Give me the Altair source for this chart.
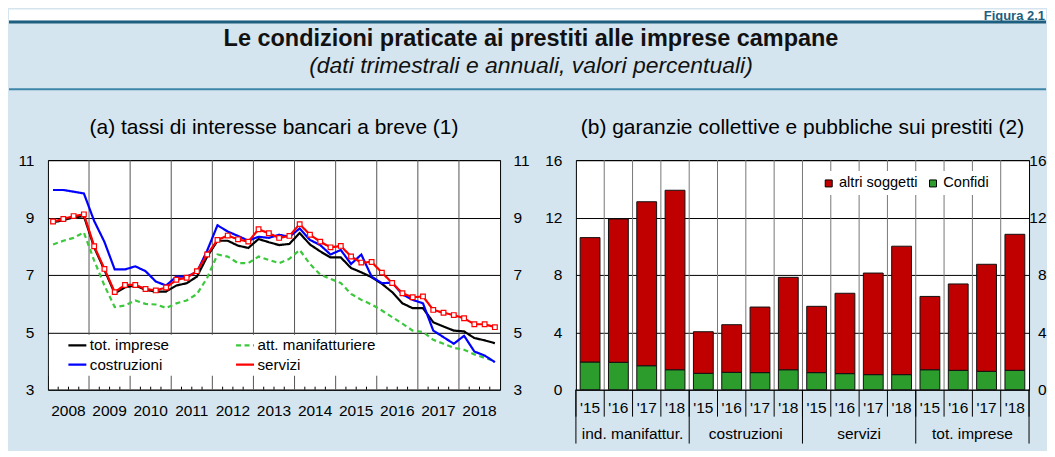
import altair as alt
import pandas as pd

FONT = "Liberation Sans"
BG = "#D4E5EF"
TEAL = "#1E5E7E"
TEAL_THIN = "#3D85A9"
TXT = "#000000"

# ---------------- panel (a): quarterly short-term rates
anni_a = list(range(2008, 2019))
trimestri = [1, 2, 3, 4]
serie_a = ["tot. imprese", "costruzioni", "att. manifatturiere", "servizi"]
colori_a = ["#000000", "#0000FF", "#3CC83C", "#FF0000"]
tratti_a = [[1, 0], [1, 0], [5, 3.5], [1, 0]]
tot_imprese = [8.83, 8.91, 9.00, 9.05, 7.96, 7.17, 6.36, 6.57, 6.63, 6.48, 6.42, 6.42,
               6.63, 6.71, 6.94, 7.64, 8.19, 8.19, 8.02, 7.94, 8.25, 8.14, 8.04, 8.08,
               8.46, 8.06, 7.82, 7.61, 7.61, 7.24, 7.09, 6.92, 6.69, 6.40, 6.01, 5.84,
               5.84, 5.35, 5.20, 5.06, 5.03, 4.80, 4.72, 4.62]
att_manifatturiere = [8.06, 8.19, 8.29, 8.48, 7.50, 6.63, 5.88, 5.93, 6.11, 5.99, 5.97, 5.85,
                      6.01, 6.11, 6.33, 6.90, 7.71, 7.64, 7.41, 7.41, 7.64, 7.52, 7.41, 7.56,
                      7.87, 7.38, 7.01, 6.86, 6.72, 6.34, 6.13, 5.97, 5.76, 5.53, 5.30, 5.06,
                      5.01, 4.74, 4.60, 4.46, 4.39, 4.23, 4.11, 4.00]
costruzioni = [9.96, 9.96, 9.90, 9.84, 8.88, 8.15, 7.19, 7.19, 7.30, 7.13, 6.77, 6.63,
               6.94, 6.94, 7.10, 7.85, 8.73, 8.51, 8.36, 8.19, 8.33, 8.29, 8.40, 8.33,
               8.62, 8.22, 8.04, 7.71, 7.87, 7.38, 7.71, 6.94, 6.71, 6.73, 6.32, 6.13,
               6.01, 5.06, 4.83, 4.60, 4.88, 4.33, 4.19, 3.96]
servizi = [8.86, 8.95, 9.05, 9.11, 8.00, 7.21, 6.40, 6.65, 6.65, 6.51, 6.46, 6.56,
           6.83, 6.90, 7.13, 7.71, 8.22, 8.37, 8.24, 8.16, 8.59, 8.45, 8.29, 8.36,
           8.77, 8.40, 8.16, 7.96, 8.01, 7.64, 7.43, 7.45, 7.08, 6.72, 6.36, 6.22,
           6.25, 5.78, 5.68, 5.60, 5.49, 5.28, 5.28, 5.18]
valori_a = {"tot. imprese": tot_imprese, "att. manifatturiere": att_manifatturiere,
            "costruzioni": costruzioni, "servizi": servizi}
tick_a = [3, 5, 7, 9, 11]

# ---------------- panel (b): guarantees on loans
settori = ["ind. manifattur.", "costruzioni", "servizi", "tot. imprese"]
anni_b = ["'15", "'16", "'17", "'18"]
tipi_b = ["altri soggetti", "Confidi"]
colori_b = ["#C00000", "#2C9C2C"]
confidi = [1.93, 1.91, 1.67, 1.39, 1.14, 1.21, 1.19, 1.39,
           1.19, 1.12, 1.05, 1.05, 1.39, 1.35, 1.28, 1.35]
altri_soggetti = [8.67, 9.99, 11.43, 12.51, 2.90, 3.32, 4.57, 6.44,
                  4.62, 5.60, 7.08, 8.95, 5.11, 6.02, 7.46, 9.48]
tick_b = [0, 4, 8, 12, 16]

TITOLO = "Le condizioni praticate ai prestiti alle imprese campane"
SOTTOTITOLO = "(dati trimestrali e annuali, valori percentuali)"
TITOLO_A = "(a) tassi di interesse bancari a breve (1)"
TITOLO_B = "(b) garanzie collettive e pubbliche sui prestiti (2)"
FIGURA = "Figura 2.1"

# ---------------- layout constants (pixels, relative to panel (a) plot origin)
W_A, W_B, H = 453, 454, 230
GAP = 76
LEFT = 39          # from page panel edge to plot (a)
RIGHT_END = 1000   # right edge of the drawing
RIGHT_EXT = RIGHT_END - GAP - W_A - W_B
TOP = -151         # top edge of the drawing
LAB = 15.5
BAR_FRAC = 0.70

# ---------------- tables
periodi = [a + (q - 0.5) / 4 for a in anni_a for q in trimestri]
righe = []
for nome in serie_a:
    for t, v in zip(periodi, valori_a[nome]):
        righe.append({"t": t, "v": v, "serie": nome})
df_a = pd.DataFrame(righe)
df_anni = pd.DataFrame({"t": anni_a[1:]})
df_trim = pd.DataFrame({"t": [a + k / 4 for a in anni_a for k in (1, 2, 3)]})
df_lab_a = pd.DataFrame({"t": [a + 0.5 for a in anni_a], "anno": [str(a) for a in anni_a]})
one = pd.DataFrame({"z": [0]})

righe_b = []
for i in range(16):
    righe_b.append({"x0": i + (1 - BAR_FRAC) / 2, "x1": i + (1 + BAR_FRAC) / 2,
                    "y0": 0, "y1": confidi[i], "tipo": "Confidi"})
    righe_b.append({"x0": i + (1 - BAR_FRAC) / 2, "x1": i + (1 + BAR_FRAC) / 2,
                    "y0": confidi[i], "y1": confidi[i] + altri_soggetti[i], "tipo": "altri soggetti"})
df_b = pd.DataFrame(righe_b)
df_lab_b = pd.DataFrame({"xc": [i + 0.5 for i in range(16)],
                         "anno": [anni_b[i % 4] for i in range(16)]})
df_grp_b = pd.DataFrame({"xc": [4 * g + 2 for g in range(4)], "settore": settori})
df_grid_b = pd.DataFrame({"k": list(range(1, 16))})
df_sep_b = pd.DataFrame({"k": list(range(0, 17))})
df_gsep_b = pd.DataFrame({"k": [0, 4, 8, 12, 16]})

# ---------------- header (drawn in panel (a) pixel space)
def testo(t, **kw):
    return alt.Chart(pd.DataFrame({"t": [t]})).mark_text(**kw)

bianco = alt.Chart(one).mark_rect(color="white").encode(
    x=alt.value(-LEFT), x2=alt.value(RIGHT_END), y=alt.value(TOP), y2=alt.value(TOP + 11))
linea_sup = alt.Chart(one).mark_rect(color=TEAL).encode(
    x=alt.value(-LEFT), x2=alt.value(RIGHT_END), y=alt.value(TOP + 11), y2=alt.value(TOP + 14))
figura = testo(FIGURA, fontSize=13, fontWeight="bold", align="right", baseline="alphabetic",
               color=TEAL).encode(text="t:N", x=alt.value(RIGHT_END - 1), y=alt.value(TOP + 10.5))
titolo = testo(TITOLO, fontSize=23.5, fontWeight="bold", align="center", baseline="middle",
               color="#111").encode(text="t:N", x=alt.value(484), y=alt.value(TOP + 29.5))
sottotitolo = testo(SOTTOTITOLO, fontSize=23, fontStyle="italic", align="center",
                    baseline="middle", color="#111").encode(
    text="t:N", x=alt.value(484), y=alt.value(TOP + 56.5))
linea_inf = alt.Chart(one).mark_rect(color=TEAL_THIN).encode(
    x=alt.value(-LEFT), x2=alt.value(RIGHT_END), y=alt.value(TOP + 79), y2=alt.value(TOP + 81))

# ---------------- panel (a)
xs_a = alt.Scale(domain=[2008, 2019], nice=False, zero=False)
ys_a = alt.Scale(domain=[3, 11], nice=False, zero=False)
x_a0 = alt.X("t:Q", scale=xs_a, axis=None)
y_al = alt.Y("v:Q", scale=ys_a, title=None,
             axis=alt.Axis(values=tick_a, grid=True, gridColor="#000", gridWidth=1, ticks=False,
                           domain=False, labelPadding=14, labelFontSize=LAB, labelColor=TXT,
                           minExtent=LEFT, maxExtent=LEFT, labelFlush=False))
y_ar = alt.Y("v:Q", scale=ys_a, title=None,
             axis=alt.Axis(orient="right", values=tick_a, grid=False, ticks=False, domain=False,
                           labelPadding=13, labelFontSize=LAB, labelColor=TXT,
                           minExtent=30, maxExtent=30, labelFlush=False))
y_a0 = alt.Y("v:Q", scale=ys_a, axis=None)

leg_a = alt.Legend(title=None, orient="none", legendX=19, legendY=175, columns=2,
                   symbolType="stroke", symbolSize=324, symbolStrokeWidth=2.2,
                   labelFontSize=15.2, labelColor=TXT, labelOffset=2, columnPadding=62,
                   rowPadding=0.3, padding=0, labelLimit=300)
col_a = alt.Color("serie:N", scale=alt.Scale(domain=serie_a, range=colori_a), legend=leg_a)
dash_a = alt.StrokeDash("serie:N", scale=alt.Scale(domain=serie_a, range=tratti_a), legend=leg_a)

grid_anni = alt.Chart(df_anni).mark_rule(color="#555", strokeWidth=1).encode(
    x=x_a0, y=alt.value(0), y2=alt.value(H))
tick_trim = alt.Chart(df_trim).mark_rule(color="#000", strokeWidth=1).encode(
    x=x_a0, y=alt.value(H - 3), y2=alt.value(H))
box_leg = alt.Chart(one).mark_rect(color="white").encode(
    x=alt.value(1), x2=alt.value(354), y=alt.value(175), y2=alt.value(216))

ordine = ["att. manifatturiere", "tot. imprese", "costruzioni", "servizi"]
linee = []
for j, nome in enumerate(ordine):
    linee.append(
        alt.Chart(df_a).transform_filter(alt.datum.serie == nome)
        .mark_line(strokeWidth=2.2)
        .encode(x=x_a0, y=y_al if j == 0 else y_a0, color=col_a, strokeDash=dash_a)
    )
punti = alt.Chart(df_a).transform_filter(alt.datum.serie == "servizi").mark_point(
    shape="square", filled=True, fill="white", stroke="#FF0000", strokeWidth=1.2,
    size=22, opacity=1).encode(x=x_a0, y=y_a0)
asse_dx_a = alt.Chart(df_a).mark_point(opacity=0).encode(x=x_a0, y=y_ar)
lab_a = alt.Chart(df_lab_a).mark_text(fontSize=LAB, baseline="middle", color=TXT).encode(
    x=x_a0, y=alt.value(H + 21), text="anno:N")
tit_a = testo(TITOLO_A, fontSize=21, align="center", baseline="middle", color=TXT).encode(
    text="t:N", x=alt.value(W_A / 2), y=alt.value(-32))

left = alt.layer(bianco, linea_sup, figura, titolo, sottotitolo, linea_inf,
                 grid_anni, tick_trim, box_leg, *linee, punti, asse_dx_a, lab_a, tit_a
                 ).resolve_axis(y="independent").properties(
    width=W_A, height=H, view=alt.ViewBackground(fill="white", stroke="#000", strokeWidth=1))

# ---------------- panel (b)
xs_b = alt.Scale(domain=[0, 16], nice=False, zero=False)
ys_b = alt.Scale(domain=[0, 16], nice=False, zero=True)
y_bl = alt.Y("y0:Q", scale=ys_b, title=None,
             axis=alt.Axis(values=tick_b, grid=True, gridColor="#000", gridWidth=1, ticks=False,
                           domain=False, labelPadding=14, labelFontSize=LAB, labelColor=TXT,
                           minExtent=30, maxExtent=30, labelFlush=False))
y_br = alt.Y("y1:Q", scale=ys_b, title=None,
             axis=alt.Axis(orient="right", values=tick_b, grid=False, ticks=False, domain=False,
                           labelAlign="right", labelPadding=RIGHT_EXT, labelFontSize=LAB,
                           labelColor=TXT, minExtent=RIGHT_EXT, maxExtent=RIGHT_EXT,
                           labelFlush=False))
leg_b = alt.Legend(title=None, orient="none", legendX=241, legendY=11, direction="horizontal",
                   symbolType="square", symbolSize=49, symbolStrokeColor="#000",
                   symbolStrokeWidth=1, labelFontSize=14.6, labelColor=TXT, labelOffset=3,
                   columnPadding=7.5, padding=5, fillColor="white")
col_b = alt.Color("tipo:N", scale=alt.Scale(domain=tipi_b, range=colori_b), legend=leg_b)

grid_b = alt.Chart(df_grid_b).mark_rule(color="#777", strokeWidth=1).encode(
    x=alt.X("k:Q", scale=xs_b, axis=None), y=alt.value(0), y2=alt.value(H))
sep_b = alt.Chart(df_sep_b).mark_rule(color="#000", strokeWidth=1).encode(
    x=alt.X("k:Q", scale=xs_b, axis=None), y=alt.value(H), y2=alt.value(H + 27))
gsep_b = alt.Chart(df_gsep_b).mark_rule(color="#000", strokeWidth=1).encode(
    x=alt.X("k:Q", scale=xs_b, axis=None), y=alt.value(H), y2=alt.value(H + 54))
barre = alt.Chart(df_b).mark_bar(stroke="#111", strokeWidth=1).encode(
    x=alt.X("x0:Q", scale=xs_b, axis=None), x2="x1:Q",
    y=y_bl, y2="y1:Q", color=col_b)
asse_dx_b = alt.Chart(df_b).mark_point(opacity=0).encode(
    x=alt.X("x0:Q", scale=xs_b, axis=None), y=y_br)
lab_b = alt.Chart(df_lab_b).mark_text(fontSize=LAB, baseline="middle", color=TXT).encode(
    x=alt.X("xc:Q", scale=xs_b, axis=None), y=alt.value(248), text="anno:N")
grp_b = alt.Chart(df_grp_b).mark_text(fontSize=LAB, baseline="middle", color=TXT).encode(
    x=alt.X("xc:Q", scale=xs_b, axis=None), y=alt.value(274), text="settore:N")
tit_b = testo(TITOLO_B, fontSize=21, align="center", baseline="middle", color=TXT).encode(
    text="t:N", x=alt.value(W_B / 2), y=alt.value(-32))

right = alt.layer(grid_b, sep_b, gsep_b, barre, asse_dx_b, lab_b, grp_b, tit_b).resolve_axis(
    y="independent").properties(width=W_B, height=H,
                                view=alt.ViewBackground(fill="white", stroke="#000", strokeWidth=1))

chart = alt.hconcat(left, right, spacing=GAP, bounds="flush").resolve_scale(
    x="independent", y="independent", color="independent", strokeDash="independent"
).resolve_legend(color="independent", strokeDash="independent").properties(
    background=BG, padding={"left": 0, "top": 0, "right": 0, "bottom": 6}
).configure(font=FONT).configure_view(strokeWidth=0).configure_axis(labelFont=FONT).configure_legend(
    labelFont=FONT)

chart.save("out.html", embed_options={"renderer": "svg", "actions": False})
